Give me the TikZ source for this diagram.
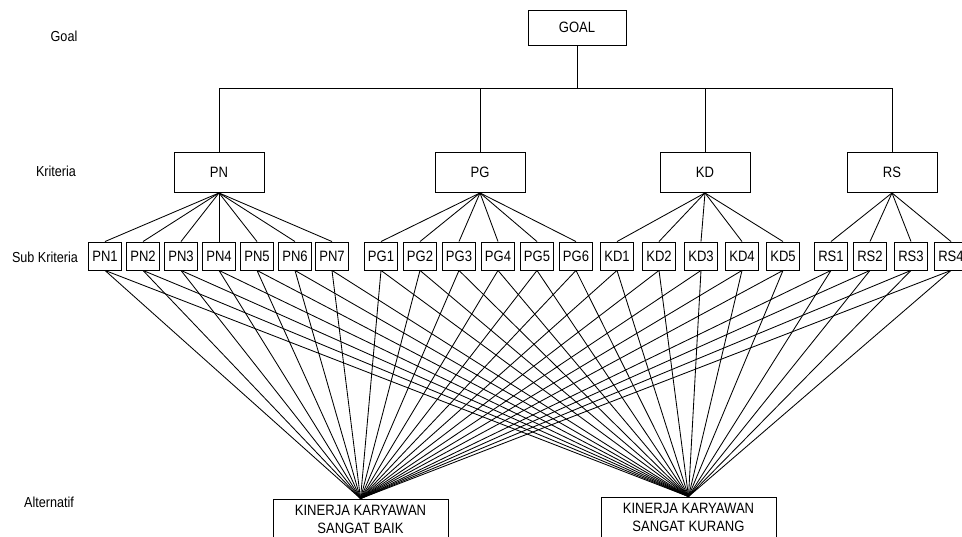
\documentclass[tikz,border=0pt]{standalone}
\usepackage{fontspec}
\setmainfont{Liberation Sans}[FakeStretch=0.87]
\usepackage{tikz}
\usetikzlibrary{positioning, calc}

\tikzset{
  box/.style={draw, line width=0.9pt, inner sep=0pt, font=\fontsize{15}{18}\selectfont, align=center},
  critbox/.style={box, minimum width=90pt, minimum height=40pt},
  subbox/.style={box, minimum width=33pt, minimum height=28pt},
  altbox/.style={box, minimum width=175pt, minimum height=40pt},
  levellabel/.style={font=\fontsize{14.5}{16}\selectfont},
  link/.style={line width=0.85pt}
}

\begin{document}
\begin{tikzpicture}[x=1pt, y=-1pt]
  \useasboundingbox (0,0) rectangle (962,537);
  % Level labels
  \node[levellabel] (lgoal) at (64,36) {Goal};
  \node[levellabel] (lkrit) at (56,171) {Kriteria};
  \node[levellabel] (lsub) at (45,257) {Sub Kriteria};
  \node[levellabel] (lalt) at (49,502) {Alternatif};

  % Goal
  \node[box, minimum width=98pt, minimum height=35pt] (goal) at (577,27.5) {GOAL};

  % Criteria
  \node[critbox] (pn) at (219,172.5) {PN};
  \node[critbox] (pg) at (480,172.5) {PG};
  \node[critbox] (kd) at (705,172.5) {KD};
  \node[critbox] (rs) at (892,172.5) {RS};
  \foreach \c in {pn,pg,kd,rs}
    \draw[link] (goal.south) -- ++(0,43) -| (\c.north);

  % Alternatives
  \node[altbox] (alt1) at (360.5,519) {KINERJA KARYAWAN\\SANGAT BAIK};
  \node[altbox] (alt2) at (688.5,517) {KINERJA KARYAWAN\\SANGAT KURANG};

  % Sub criteria
  \foreach \n/\x/\p in {PN1/105/pn, PN2/143/pn, PN3/181/pn, PN4/219/pn, PN5/257/pn, PN6/295/pn, PN7/332/pn,
                        PG1/381/pg, PG2/420/pg, PG3/459/pg, PG4/498/pg, PG5/537/pg, PG6/576/pg,
                        KD1/617/kd, KD2/659/kd, KD3/701/kd, KD4/742/kd, KD5/783/kd,
                        RS1/831/rs, RS2/870/rs, RS3/911/rs, RS4/951/rs} {
    \node[subbox] (\n) at (\x,256) {\n};
    \draw[link] (\p.south) -- (\n.north);
    \draw[link] (\n.south) -- (alt1.north);
    \draw[link] (\n.south) -- (alt2.north);
  }
\end{tikzpicture}
\end{document}
